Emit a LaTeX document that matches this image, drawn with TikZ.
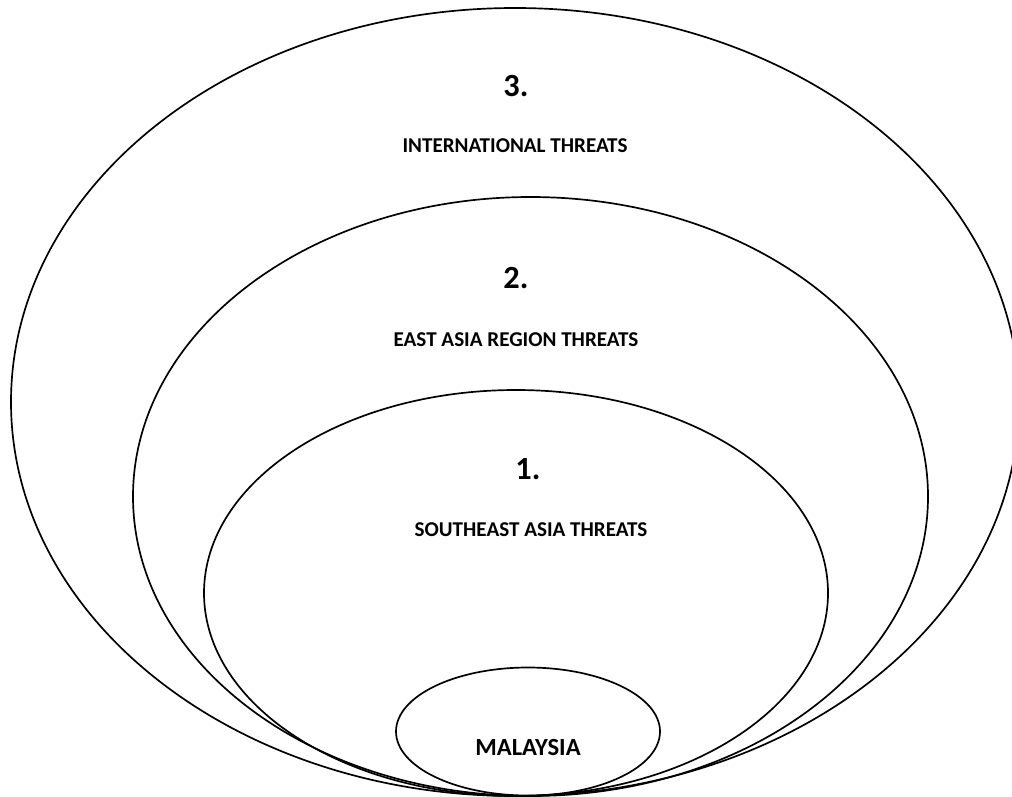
\documentclass[tikz,border=0pt]{standalone}
\usepackage{fontspec}
\setmainfont{Carlito}
\usepackage{tikz}

\begin{document}
\begin{tikzpicture}[x=0.025cm,y=-0.025cm,
		ring/.style={line width=1.2pt},
		levelnum/.style={font=\fontsize{23}{25}\selectfont\bfseries},
		levelname/.style={font=\fontsize{15}{17}\selectfont\bfseries}]
	% Bildausschnitt 1012 x 796 (Pixelkoordinaten, y nach unten)
	\path[use as bounding box] (0,0) rectangle (1012,796);
	\clip (0,0) rectangle (1012,796);
	
	% Ebene 3: internationale Bedrohungen
	\draw[ring] (515,402) ellipse [x radius=504, y radius=394];
	% Ebene 2: Ostasien
	\draw[ring] (530.5,496.5) ellipse [x radius=397.5, y radius=299.5];
	% Ebene 1: Suedostasien
	\draw[ring] (516,593) ellipse [x radius=312, y radius=203];
	% Kern: Malaysia
	\draw[ring] (528,731.5) ellipse [x radius=132, y radius=64];
	
	% Beschriftungen
	\node[levelnum] (drei) at (516,86) {3.};
	\node[levelname] (intl) at (515,146) {INTERNATIONAL THREATS};
	\node[levelnum] (zwei) at (516,278) {2.};
	\node[levelname] (ostasien) at (516,340) {EAST ASIA REGION THREATS};
	\node[levelnum] (eins) at (528,469) {1.};
	\node[levelname] (suedost) at (531,530) {SOUTHEAST ASIA THREATS};
	\node[levelname,font=\fontsize{17.5}{19}\selectfont\bfseries] (malaysia) at (528,748) {MALAYSIA};
	
\end{tikzpicture}
\end{document}
